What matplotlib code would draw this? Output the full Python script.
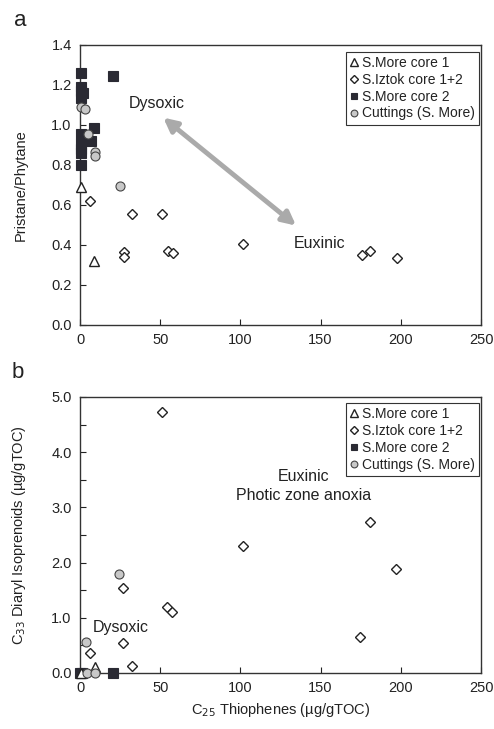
import matplotlib
matplotlib.use("Agg")
import matplotlib.pyplot as plt
import numpy as np

plt.rcParams['font.family'] = ['Liberation Sans', 'DejaVu Sans']

# ---- Panel a data (C25 thiophenes vs Pristane/Phytane) ----
a_core1_x = [0.4, 8.9]
a_core1_y = [0.69, 0.32]
a_iztok_x = [6.2, 27.4, 27.4, 32.2, 51.1, 54.6, 57.8, 101.4, 175.6, 180.8, 197.4]
a_iztok_y = [0.62, 0.367, 0.342, 0.553, 0.555, 0.372, 0.362, 0.405, 0.35, 0.37, 0.335]
a_core2_x = [0.4, 20.4, 0.4, 0.4, 2.0, 0.4, 0.4, 8.9, 6.9, 0.4, 0.4, 0.4, 0.4]
a_core2_y = [1.258, 1.247, 1.19, 1.17, 1.16, 1.135, 0.955, 0.983, 0.92, 0.905, 0.88, 0.86, 0.80]
a_cut_x = [0.4, 3.3, 5.2, 9.3, 9.3, 24.9]
a_cut_y = [1.09, 1.08, 0.955, 0.867, 0.847, 0.695]

# ---- Panel b data (C25 thiophenes vs C33 diaryl isoprenoids) ----
b_core1_x = [0.8, 9.1]
b_core1_y = [0.0, 0.11]
b_iztok_x = [51.1, 27.0, 54.4, 57.4, 6.4, 27.0, 32.4, 101.4, 180.8, 197.3, 174.6]
b_iztok_y = [4.72, 1.54, 1.20, 1.10, 0.37, 0.55, 0.13, 2.30, 2.73, 1.88, 0.65]
b_core2_x = [0.0, 1.0, 20.6]
b_core2_y = [0.0, 0.0, 0.0]
b_cut_x = [3.5, 4.6, 9.3, 24.5]
b_cut_y = [0.556, 0.0, 0.0, 1.79]

labels = ["S.More core 1", "S.Iztok core 1+2", "S.More core 2", "Cuttings (S. More)"]

fig = plt.figure(figsize=(4.94, 7.29), dpi=100)
axa = fig.add_axes([80/494, 1-325/729, 401/494, 280/729])
axb = fig.add_axes([80/494, 1-673/729, 401/494, 276/729])

dark = '#2a2a33'
edge = '#222222'

def draw(ax, c1x, c1y, izx, izy, c2x, c2y, cux, cuy):
    h1, = ax.plot(c1x, c1y, ls='none', marker='^', ms=7, mfc='white', mec=edge, mew=1.0, clip_on=False, zorder=5)
    h2, = ax.plot(izx, izy, ls='none', marker='D', ms=5.3, mfc='white', mec=edge, mew=1.0, clip_on=False, zorder=5)
    h3, = ax.plot(c2x, c2y, ls='none', marker='s', ms=6.5, mfc=dark, mec=dark, mew=0.8, clip_on=False, zorder=4)
    h4, = ax.plot(cux, cuy, ls='none', marker='o', ms=6.5, mfc='#c8c8c8', mec='#444444', mew=0.8, clip_on=False, zorder=6)
    ax.set_xlim(0, 250)
    ax.set_xticks([0, 50, 100, 150, 200, 250])
    for s in ax.spines.values():
        s.set_color('#333333')
        s.set_linewidth(1.0)
    ax.tick_params(direction='in', length=4, labelsize=10.5, colors='#222222', width=0.8, pad=6)
    return [h1, h2, h3, h4]

ha = draw(axa, a_core1_x, a_core1_y, a_iztok_x, a_iztok_y, a_core2_x, a_core2_y, a_cut_x, a_cut_y)
axa.set_ylim(0, 1.4)
axa.set_yticks(np.arange(0, 1.41, 0.2))
axa.set_yticklabels([f"{v:.1f}" for v in np.arange(0, 1.41, 0.2)])
axa.set_ylabel("Pristane/Phytane", fontsize=10.5, color='#222222')
axa.yaxis.set_label_coords(-0.13, 0.5)

hb = draw(axb, b_core1_x, b_core1_y, b_iztok_x, b_iztok_y, b_core2_x, b_core2_y, b_cut_x, b_cut_y)
axb.set_ylim(0, 5.0)
axb.set_yticks(np.arange(0, 5.01, 0.5))
axb.set_yticklabels([f"{v:.1f}" if abs(v - round(v)) < 1e-6 else "" for v in np.arange(0, 5.01, 0.5)])
axb.set_ylabel("C$_{33}$ Diaryl Isoprenoids (µg/gTOC)", fontsize=10.5, color='#222222')
axb.yaxis.set_label_coords(-0.13, 0.5)
axb.set_xlabel("C$_{25}$ Thiophenes (µg/gTOC)", fontsize=10.5, color='#222222', labelpad=4)

for ax, hs, top in [(axa, ha, 0.975), (axb, hb, 0.978)]:
    leg = ax.legend(hs, labels, loc='upper right', bbox_to_anchor=(0.996, top), fontsize=10,
                    frameon=True, fancybox=False, edgecolor='#333333', framealpha=1,
                    handlelength=0.5, handletextpad=0.35, borderpad=0.3, labelspacing=0.2,
                    borderaxespad=0, markerscale=0.75)
    leg.get_frame().set_linewidth(0.8)
    for t in leg.get_texts():
        t.set_color('#222222')

# annotations panel a
axa.annotate("", xy=(51.9, 1.037), xytext=(134.7, 0.497),
             arrowprops=dict(arrowstyle='<|-|>', color='#aaaaaa', lw=3.5, mutation_scale=20, shrinkA=0, shrinkB=0))
axa.text(47.8, 1.108, "Dysoxic", fontsize=11.5, ha='center', va='center', color='#222222')
axa.text(149.6, 0.408, "Euxinic", fontsize=11.5, ha='center', va='center', color='#222222')

# annotations panel b
axb.text(139.6, 3.56, "Euxinic", fontsize=11.5, ha='center', va='center', color='#222222')
axb.text(139.6, 3.21, "Photic zone anoxia", fontsize=11.5, ha='center', va='center', color='#222222')
axb.text(25.4, 0.83, "Dysoxic", fontsize=11.5, ha='center', va='center', color='#222222')

fig.text(20/494, 1-20/729, "a", fontsize=16, ha='center', va='center', color='#222222')
fig.text(18/494, 1-372/729, "b", fontsize=16, ha='center', va='center', color='#222222')

fig.savefig("out.png", dpi=100)
